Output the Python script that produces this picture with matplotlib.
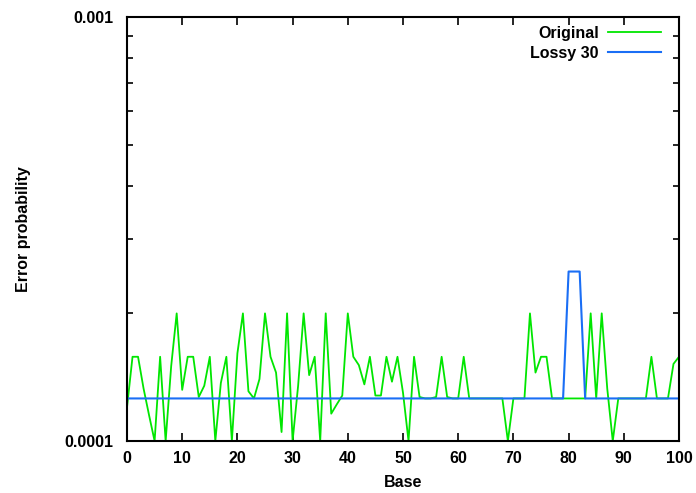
import matplotlib
matplotlib.use("Agg")
import matplotlib.pyplot as plt
from matplotlib.ticker import LogLocator, FixedLocator, NullFormatter

# per-base error probability, bases 0..100
bases = list(range(101))
original = [
    1.20e-4, 1.58e-4, 1.58e-4, 1.33e-4, 1.15e-4, 1.00e-4, 1.58e-4, 1.00e-4, 1.50e-4, 2.00e-4,
    1.32e-4, 1.58e-4, 1.58e-4, 1.27e-4, 1.35e-4, 1.58e-4, 1.00e-4, 1.37e-4, 1.58e-4, 1.00e-4,
    1.61e-4, 2.00e-4, 1.31e-4, 1.26e-4, 1.40e-4, 2.00e-4, 1.58e-4, 1.45e-4, 1.05e-4, 2.00e-4,
    1.00e-4, 1.35e-4, 2.00e-4, 1.43e-4, 1.58e-4, 1.00e-4, 2.00e-4, 1.16e-4, 1.22e-4, 1.28e-4,
    2.00e-4, 1.58e-4, 1.51e-4, 1.36e-4, 1.58e-4, 1.28e-4, 1.28e-4, 1.58e-4, 1.38e-4, 1.58e-4,
    1.30e-4, 1.00e-4, 1.58e-4, 1.27e-4, 1.26e-4, 1.26e-4, 1.27e-4, 1.58e-4, 1.27e-4, 1.26e-4,
    1.26e-4, 1.58e-4, 1.26e-4, 1.26e-4, 1.26e-4, 1.26e-4, 1.26e-4, 1.26e-4, 1.26e-4, 1.00e-4,
    1.26e-4, 1.26e-4, 1.26e-4, 2.00e-4, 1.45e-4, 1.58e-4, 1.58e-4, 1.26e-4, 1.26e-4, 1.26e-4,
    1.26e-4, 1.26e-4, 1.26e-4, 1.26e-4, 2.00e-4, 1.26e-4, 2.00e-4, 1.33e-4, 1.00e-4, 1.26e-4,
    1.26e-4, 1.26e-4, 1.26e-4, 1.26e-4, 1.26e-4, 1.58e-4, 1.26e-4, 1.26e-4, 1.26e-4, 1.52e-4,
    1.58e-4,
]
lossy30 = [1.26e-4] * 80 + [2.51e-4, 2.51e-4, 2.51e-4] + [1.26e-4] * 18

plt.rcParams['font.family'] = ['Liberation Sans', 'DejaVu Sans']
fs = 11.5

fig = plt.figure(figsize=(6.96, 4.93), dpi=100)
ax = fig.add_axes([127/696, 1 - 441/493, 552/696, 424/493])

ax.plot(bases, original, color='#00e600', lw=1.3, label='Original')
ax.plot(bases, lossy30, color='#1a6ef5', lw=1.5, label='Lossy 30')

ax.set_yscale('log')
ax.set_xlim(0, 100)
ax.set_ylim(1e-4, 1e-3)

ax.xaxis.set_major_locator(FixedLocator(range(0, 101, 10)))
ax.yaxis.set_major_locator(FixedLocator([1e-4, 1e-3]))
ax.set_yticklabels(['0.0001', '0.001'])
ax.yaxis.set_minor_locator(LogLocator(base=10, subs=range(2, 10)))
ax.yaxis.set_minor_formatter(NullFormatter())

ax.tick_params(axis='both', which='both', direction='in', top=True, right=True,
               width=1.2, labelsize=fs)
ax.tick_params(axis='both', which='major', length=6)
ax.tick_params(axis='x', which='major', pad=7)
ax.tick_params(axis='y', which='major', pad=10)
ax.tick_params(axis='y', which='minor', length=4)
for lab in ax.get_xticklabels() + ax.get_yticklabels():
    lab.set_fontweight('bold')
for sp in ax.spines.values():
    sp.set_linewidth(1.5)

ax.set_xlabel('Base', fontsize=fs, fontweight='bold', labelpad=7)
ax.set_ylabel('Error probability', fontsize=fs, fontweight='bold')
ax.yaxis.set_label_coords((31 - 127) / 552, 0.5)

ax.legend(loc='upper right', bbox_to_anchor=((661 - 127) / 552, 1 - 9 / 424),
          frameon=False, markerfirst=False, handlelength=3.3, handletextpad=0.6,
          borderaxespad=0, borderpad=0, labelspacing=0.3,
          prop={'weight': 'bold', 'size': fs})

fig.savefig('out.png', dpi=100)
